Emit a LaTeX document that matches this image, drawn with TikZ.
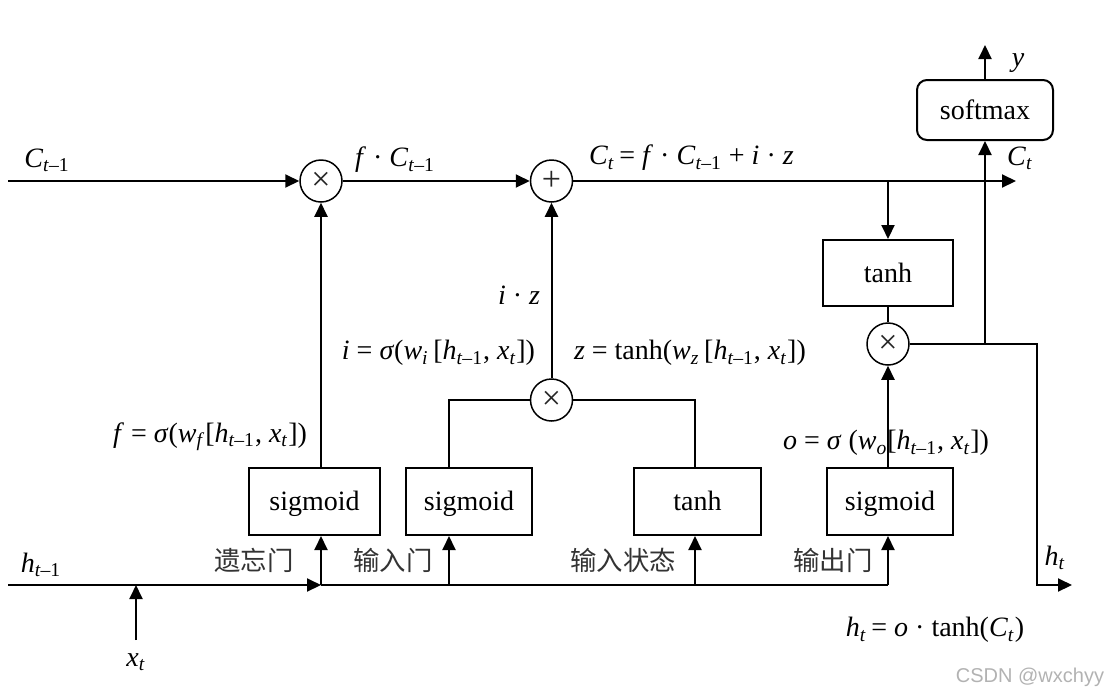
\documentclass[tikz,border=0pt]{standalone}
\usepackage{fontspec}
\setmainfont{Liberation Serif}
\newfontfamily\cjk{Noto Sans CJK SC}
\newfontfamily\wmfont{Liberation Sans}
\usetikzlibrary{arrows.meta}
\newcommand{\iv}[1]{\textit{#1}}
\newcommand{\sbs}[1]{\textsubscript{#1}}
\newcommand{\tm}{\sbs{\iv{t}–1}}
\newcommand{\ts}{\sbs{\iv{t}}}
\begin{document}
\begin{tikzpicture}[x=0.5pt,y=-0.5pt, line width=1pt, line join=miter,
  >={Triangle[length=7pt,width=6.5pt]},
  box/.style={draw, minimum height=33.5pt, inner sep=0pt, text height=11pt, text depth=2pt,
    font=\fontsize{14}{16}\selectfont},
  op/.style={draw, circle, minimum size=21pt, inner sep=0pt, line width=0.75pt,
    font=\fontsize{17}{18}\selectfont, text=black!85},
  lbl/.style={font=\fontsize{14}{16}\selectfont, inner sep=0pt},
  cn/.style={font=\cjk\fontsize{13.2}{15}\selectfont, text=black!80, inner sep=0pt},
  wm/.style={font=\wmfont\fontsize{10}{12}\selectfont, text=black!30, inner sep=0pt}]
\useasboundingbox (0,0) rectangle (1107,697);

% operator circles
\node[op] (m1) at (321,181) {×};
\node[op] (plus) at (551.5,181) {+};
\node[op] (m2) at (551.5,400) {×};
\node[op] (m3) at (888,344) {×};

% boxes
\node[box, minimum width=65.5pt] (s1) at (314.5,501.5) {sigmoid};
\node[box, minimum width=63pt] (s2) at (469,501.5) {sigmoid};
\node[box, minimum width=63.5pt] (tb) at (697.5,501.5) {tanh};
\node[box, minimum width=63pt] (s3) at (890,501.5) {sigmoid};
\node[box, minimum width=65pt, minimum height=33pt] (tt) at (888,273) {tanh};
\node[box, minimum width=68pt, minimum height=30pt, rounded corners=5pt] (sm) at (985,110) {softmax};

% free ends
\coordinate (cin) at (8,181);
\coordinate (cout) at (1016,181);
\coordinate (ct) at (888,181);
\coordinate (b0) at (8,585);
\coordinate (b1) at (321,585);
\coordinate (b2) at (449,585);
\coordinate (b3) at (695,585);
\coordinate (b4) at (888,585);
\coordinate (xin) at (136,640);
\coordinate (hr) at (1037,344);
\coordinate (jn) at (985,344);
\coordinate (hout) at (1072,585);
\coordinate (yout) at (985,45);

% cell state line
\draw[->] (cin) -- (m1);
\draw[->] (m1) -- (plus);
\draw[->] (plus) -- (cout);

% bottom bus
\draw[->] (b0) -- (b1);
\draw (b1) -- (b4);
\draw[->] (xin) -- (xin |- b0);
\draw[->] (b1) -- (s1.south -| b1);
\draw[->] (b2) -- (s2.south -| b2);
\draw[->] (b3) -- (tb.south -| b3);
\draw[->] (b4) -- (s3.south -| b4);

% forget gate
\draw[->] (s1.north -| m1) -- (m1);
% input gate and state
\draw (s2.north -| b2) |- (m2.west);
\draw (tb.north -| b3) |- (m2.east);
\draw[->] (m2) -- (plus);
% output
\draw[->] (ct) -- (tt.north);
\draw (tt) -- (m3);
\draw[->] (s3.north -| m3) -- (m3);
\draw[->] (m3) -- (hr) |- (hout);
\draw[->] (jn) -- (sm.south);
\draw[->] (sm.north) -- (yout);

% labels
\node[lbl] at (47,160) {\iv{C}\tm};
\node[lbl] at (395,160) {\iv{f} · \iv{C}\tm};
\node[lbl, anchor=west] at (588,158) {\iv{C}\ts\,= \iv{f} · \iv{C}\tm\ + \iv{i} · \iv{z}};
\node[lbl] at (1020,158) {\iv{C}\ts};
\node[lbl] at (1018,63) {\iv{y}};
\node[lbl, anchor=east] at (541,295) {\iv{i} · \iv{z}};
\node[lbl, anchor=east] at (536,353) {\iv{i} = \iv{σ}(\iv{w}\sbs{\iv{i}}\,[\iv{h}\tm, \iv{x}\ts])};
\node[lbl, anchor=west] at (573,353) {\iv{z} = tanh(\iv{w}\sbs{\iv{z}}\,[\iv{h}\tm, \iv{x}\ts])};
\node[lbl] at (210,437) {\iv{f} = \iv{σ}(\iv{w}\sbs{\iv{f}}[\iv{h}\tm, \iv{x}\ts])};
\node[lbl] at (886,443) {\iv{o} = \iv{σ} (\iv{w}\sbs{\iv{o}}[\iv{h}\tm, \iv{x}\ts])};
\node[lbl] at (41,565) {\iv{h}\tm};
\node[lbl] at (136,662) {\iv{x}\ts};
\node[lbl] at (1055,558) {\iv{h}\ts};
\node[lbl] at (935,630) {\iv{h}\ts\,= \iv{o} · tanh(\iv{C}\ts)};
\node[cn] at (254,560) {遗忘门};
\node[cn] at (393,560) {输入门};
\node[cn] at (623,560) {输入状态};
\node[cn] at (833,560) {输出门};
\node[wm] at (1030,677) {CSDN @wxchyy};
\end{tikzpicture}
\end{document}
